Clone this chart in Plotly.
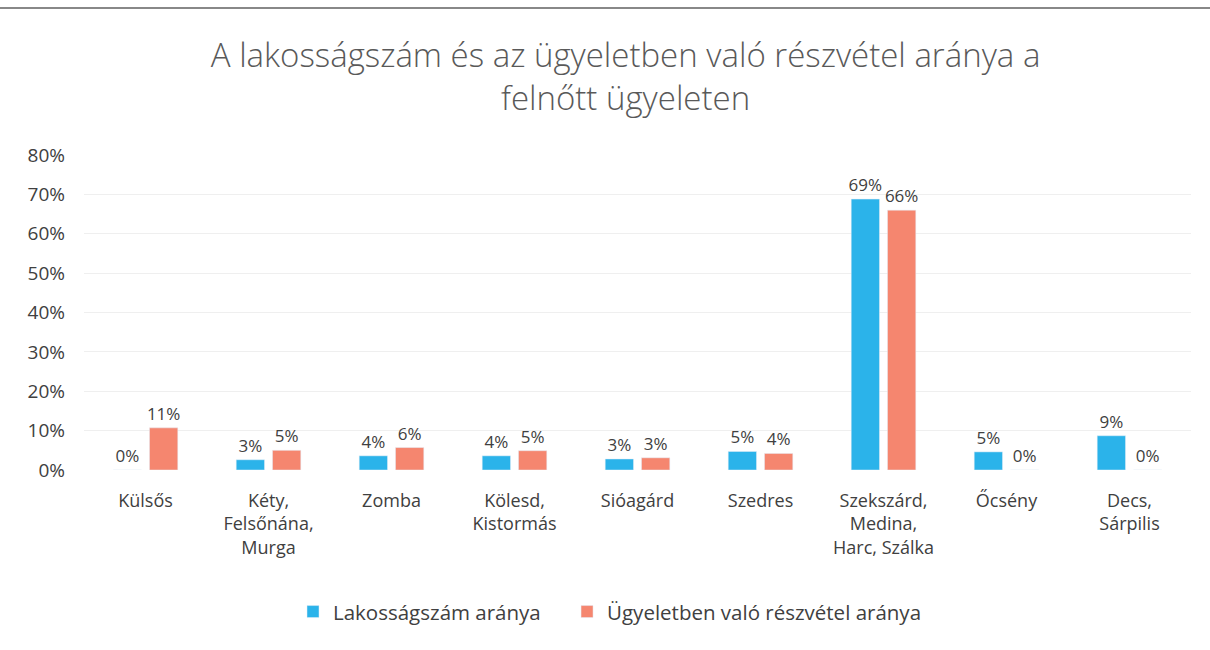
import plotly.graph_objects as go

categories = ["Külsős", "Kéty,<br>Felsőnána,<br>Murga", "Zomba", "Kölesd,<br>Kistormás",
              "Sióagárd", "Szedres", "Szekszárd,<br>Medina,<br>Harc, Szálka", "Őcsény", "Decs,<br>Sárpilis"]
lakossag = [0.0, 0.026, 0.036, 0.036, 0.028, 0.047, 0.688, 0.046, 0.087]
ugyelet = [0.107, 0.05, 0.057, 0.049, 0.031, 0.042, 0.66, 0.0, 0.0]
series_names = ["Lakosságszám aránya", "Ügyeletben való részvétel aránya"]
colors = ["#2BB3EA", "#F5866F"]

font_family = "Open Sans, Lato, sans-serif"
text_color = "#404040"

legend_pad = ["\u00a0" * 4, ""]

fig = go.Figure()
for name, vals, col, pad in zip(series_names, [lakossag, ugyelet], colors, legend_pad):
    fig.add_trace(go.Bar(
        x=categories, y=vals, name=name + pad, marker_color=col,
        text=[f"{round(v*100)}%" for v in vals], textposition="outside",
        textfont=dict(size=17, color=text_color, family=font_family),
        constraintext="none", cliponaxis=False,
    ))

fig.update_layout(
    width=1210, height=650,
    paper_bgcolor="white", plot_bgcolor="white",
    margin=dict(l=84, r=19, t=155, b=180),
    barmode="group", bargap=0.41, bargroupgap=0.22,
    title=dict(text="A lakosságszám és az ügyeletben való részvétel aránya a<br>felnőtt ügyeleten",
               x=0.517, xanchor="center", y=1 - 67/650, yanchor="middle", yref="container",
               font=dict(size=33, color="#595959", family=font_family, weight=300)),
    font=dict(family=font_family, color=text_color),
    legend=dict(orientation="h", x=(293 - 84) / 1107, xanchor="left", y=-0.45, yanchor="middle",
                font=dict(size=20.5, color=text_color), traceorder="normal"),
    yaxis=dict(range=[0, 0.8], dtick=0.1, tickformat=".0%", showgrid=True,
               gridcolor="#EFEFEF", zeroline=False, tickfont=dict(size=19, color=text_color),
               ticklabelstandoff=18),
    xaxis=dict(tickfont=dict(size=18, color=text_color), showline=False, ticks="",
               ticklabelstandoff=18),
    shapes=[dict(type="line", xref="paper", yref="paper", x0=-0.08, x1=1.02,
                 y0=(650 - 8 - 180) / 315, y1=(650 - 8 - 180) / 315,
                 line=dict(color="#888888", width=2))],
)

fig.write_html("out.html")
